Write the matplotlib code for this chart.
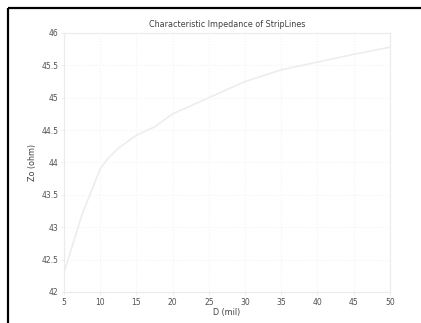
import matplotlib
matplotlib.use("Agg")
import matplotlib.pyplot as plt
from matplotlib.lines import Line2D

D_mil = [5, 7.5, 10, 11, 12.5, 15, 17.5, 20, 25, 30, 35, 40, 45, 50]
Zo_ohm = [42.3, 43.2, 43.9, 44.05, 44.22, 44.42, 44.55, 44.75, 45.0, 45.25, 45.43, 45.55, 45.67, 45.78]
x_ticks = [5, 10, 15, 20, 25, 30, 35, 40, 45, 50]
y_ticks = [42, 42.5, 43, 43.5, 44, 44.5, 45, 45.5, 46]
y_labels = ["42", "42.5", "43", "43.5", "44", "44.5", "45", "45.5", "46"]

fig = plt.figure(figsize=(4.21, 3.23), dpi=100)
ax = fig.add_axes([0.152, 0.096, 0.774, 0.802])
ax.plot(D_mil, Zo_ohm, color="#ededed", lw=1.2)
ax.set_xlim(5, 50)
ax.set_ylim(42, 46)
ax.set_xticks(x_ticks)
ax.set_yticks(y_ticks)
ax.set_yticklabels(y_labels)
ax.grid(True, color="#f3f3f3", lw=0.8, ls=":")
for s in ax.spines.values():
    s.set_color("#ebebeb")
    s.set_linewidth(0.8)
ax.tick_params(labelsize=5.5, colors="#ebebeb", labelcolor="#505050", length=2, width=0.6, pad=2)
ax.set_title("Characteristic Impedance of StripLines", fontsize=5.8, color="#404040", pad=4)
ax.set_xlabel("D (mil)", fontsize=5.8, color="#404040", labelpad=1)
ax.set_ylabel("Zo (ohm)", fontsize=5.8, color="#404040", labelpad=3)

fig.add_artist(Line2D([0.019, 1.05], [0.975, 0.975], transform=fig.transFigure, color="black", lw=1.6, solid_capstyle="butt"))
fig.add_artist(Line2D([0.019, 0.019], [0.975, -0.05], transform=fig.transFigure, color="black", lw=1.6, solid_capstyle="butt"))

fig.savefig("out.png", dpi=100)
